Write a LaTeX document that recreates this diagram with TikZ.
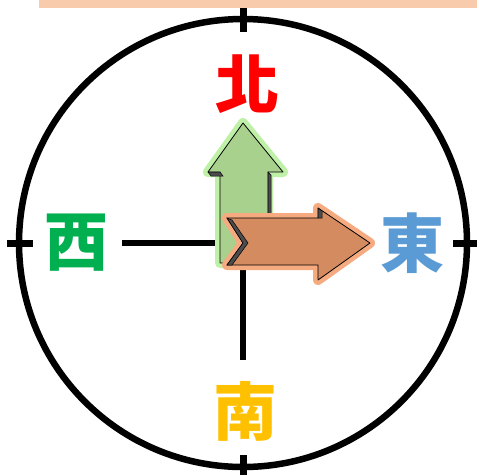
\documentclass[tikz,border=0pt]{standalone}
\usepackage{fontspec}
\newfontfamily\cjk{Noto Sans CJK TC}
\definecolor{bandorange}{HTML}{F8CBAD}
\definecolor{northred}{HTML}{FF0000}
\definecolor{westgreen}{HTML}{00B050}
\definecolor{eastblue}{HTML}{5B9BD5}
\definecolor{southgold}{HTML}{FFC000}
\definecolor{upfill}{HTML}{A9D18E}
\definecolor{upglow}{HTML}{BFF0A8}
\definecolor{rightfill}{HTML}{D48B60}
\definecolor{rightglow}{HTML}{F6AA80}
\tikzset{
  ring/.style={draw=black, line width=6.5pt},
  tick/.style={draw=black, line width=7pt},
  axis/.style={draw=black, line width=6pt},
  dirlabel/.style={font=\cjk\bfseries\fontsize{64}{64}\selectfont, inner sep=0pt},
  glow/.style={line width=10pt, line join=round},
  arrowbody/.style={draw=black, line width=0.8pt, line join=round},
  shade/.style={fill=black!70, draw=black, line width=0.5pt}
}
\begin{document}
\begin{tikzpicture}[x=1pt, y=-1pt]
      \useasboundingbox (0,0) rectangle (477,475);
      % band at the top
      \fill[bandorange] (39,0) rectangle (477,7.5);
      % compass ring
      \coordinate (centre) at (243,243);
      \draw[ring] (centre) circle (224);
      % ticks on the ring
      \draw[tick] (243,8) -- (243,32);
      \draw[tick] (243,455) -- (243,475);
      \draw[tick] (7,243) -- (33,243);
      \draw[tick] (453,243) -- (477,243);
      % inner cross
      \coordinate (westend) at (122,243);
      \coordinate (southend) at (243,360);
      \draw[axis] (westend) -- (centre);
      \draw[axis] (centre) -- (southend);
      % direction labels
      \node[dirlabel, text=northred] (north) at (247,84) {北};
      \node[dirlabel, text=westgreen] (west) at (76,243) {西};
      \node[dirlabel, text=eastblue] (east) at (412,243) {東};
      \node[dirlabel, text=southgold] (south) at (245,411) {南};
      % green arrow pointing north
      \path[glow, draw=upglow, fill=upglow]
        (243,123) -- (283,172) -- (268,172) -- (268,263) -- (220,263)
        -- (220,172) -- (208,172) -- cycle;
      \path[arrowbody, fill=upfill]
        (243,123) -- (283,172) -- (268,172) -- (268,263) -- (220,263)
        -- (220,172) -- (208,172) -- cycle;
      \path[shade] (268,172) -- (271,175) -- (271,262) -- (268,263) -- cycle;
      \path[shade] (208,172) -- (211,176) -- (223,176) -- (220,172) -- cycle;
      % brown arrow pointing east
      \path[glow, draw=rightglow, fill=rightglow]
        (227,218) -- (318,218) -- (318,208) -- (370,243) -- (318,280)
        -- (318,265) -- (227,265) -- (243,243) -- cycle;
      \path[arrowbody, fill=rightfill]
        (227,218) -- (318,218) -- (318,208) -- (370,243) -- (318,280)
        -- (318,265) -- (227,265) -- (243,243) -- cycle;
      \path[shade] (227,218) -- (243,243) -- (227,265) -- (232,265)
        -- (248,243) -- (232,220) -- cycle;
      \path[shade] (318,208) -- (322,211) -- (322,218) -- (318,218) -- cycle;
    \end{tikzpicture}
\end{document}
